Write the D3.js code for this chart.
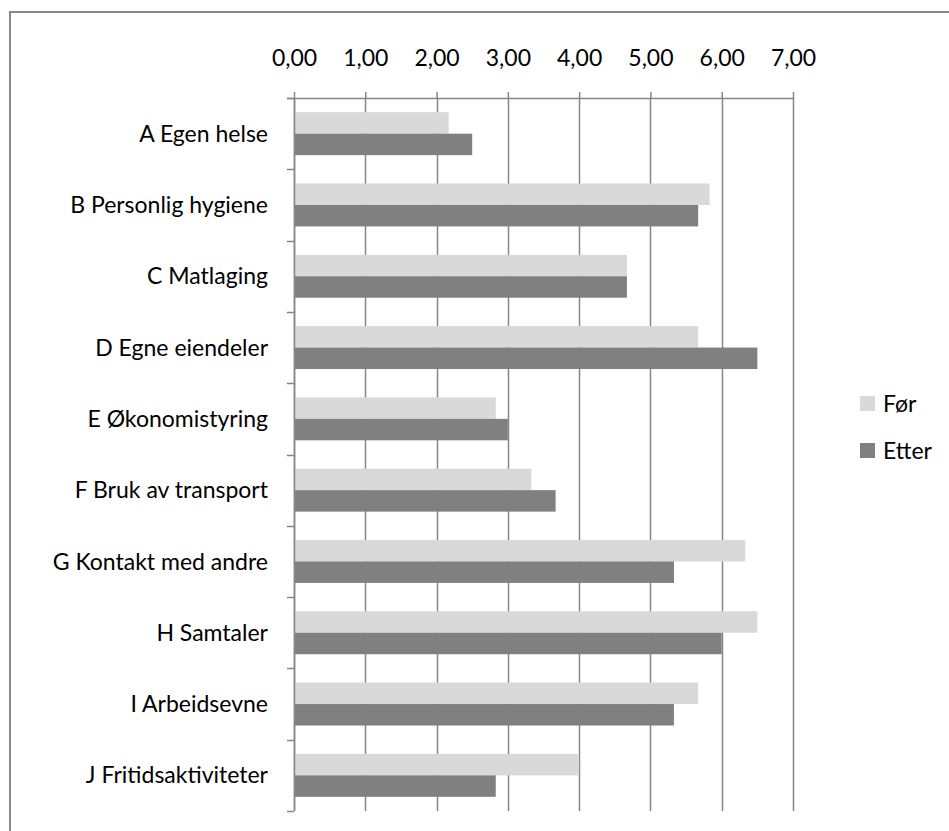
<!DOCTYPE html>
<html>
<head>
<meta charset="utf-8">
<script src="https://cdn.jsdelivr.net/npm/d3@7"></script>
<style>
  html, body { margin: 0; padding: 0; background: #fff; }
  svg { display: block; }
  text { font-family: Lato, "Open Sans", sans-serif; fill: #000; }
</style>
</head>
<body>
<svg id="chart" width="949" height="831"></svg>
<script>
// Activity areas, scored before and after
const categories = [
  "A Egen helse",
  "B Personlig hygiene",
  "C Matlaging",
  "D Egne eiendeler",
  "E Økonomistyring",
  "F Bruk av transport",
  "G Kontakt med andre",
  "H Samtaler",
  "I Arbeidsevne",
  "J Fritidsaktiviteter"
];
const series = ["Før", "Etter"];
const forValues   = [2.17, 5.83, 4.67, 5.67, 2.83, 3.33, 6.33, 6.50, 5.67, 4.00];
const etterValues = [2.50, 5.67, 4.67, 6.50, 3.00, 3.67, 5.33, 6.00, 5.33, 2.83];
const tickValues = [0, 1, 2, 3, 4, 5, 6, 7];
const colors = { "Før": "#d9d9d9", "Etter": "#808080" };

const rows = categories.map((c, i) => ({ cat: c, "Før": forValues[i], "Etter": etterValues[i] }));

const svg = d3.select("#chart");
const axisColor = "#868686";
const fontSize = 23;

// outer frame (runs off the right and bottom edges)
svg.append("rect")
  .attr("x", 10).attr("y", 12)
  .attr("width", 960).attr("height", 840)
  .attr("fill", "none")
  .attr("stroke", axisColor)
  .attr("stroke-width", 2);

const x = d3.scaleLinear().domain([0, 7]).range([294, 793]);
const y = d3.scaleBand().domain(categories).range([98, 811]).paddingInner(0).paddingOuter(0);
const ySub = d3.scaleBand().domain(series).range([0, y.bandwidth()]).paddingInner(0).paddingOuter(0.66);

// vertical gridlines
svg.append("g")
  .selectAll("line")
  .data(tickValues)
  .join("line")
  .attr("x1", d => Math.round(x(d)) + 0.5)
  .attr("x2", d => Math.round(x(d)) + 0.5)
  .attr("y1", 98)
  .attr("y2", 811)
  .attr("stroke", axisColor)
  .attr("stroke-width", 1.5);

// bars
const groups = svg.append("g")
  .selectAll("g")
  .data(rows)
  .join("g")
  .attr("transform", d => `translate(0,${y(d.cat)})`);

groups.selectAll("rect")
  .data(d => series.map(s => ({ key: s, value: d[s] })))
  .join("rect")
  .attr("x", x(0))
  .attr("y", d => ySub(d.key))
  .attr("width", d => x(d.value) - x(0))
  .attr("height", ySub.bandwidth())
  .attr("fill", d => colors[d.key]);

// top value axis
const fmt = d => d3.format(".2f")(d).replace(".", ",");
const xAxis = svg.append("g")
  .attr("transform", "translate(0,98)")
  .call(d3.axisTop(x).tickValues(tickValues).tickFormat(fmt).tickSize(6).tickPadding(26).tickSizeOuter(0));
xAxis.select(".domain").remove();
xAxis.selectAll(".tick line").attr("stroke", axisColor).attr("stroke-width", 1.5);
xAxis.selectAll(".tick text")
  .attr("font-size", fontSize)
  .style("font-family", "Lato, sans-serif")
  .attr("fill", "#000");

// horizontal axis line along the top of the plot
svg.append("line")
  .attr("x1", 287).attr("x2", 793)
  .attr("y1", 98.5).attr("y2", 98.5)
  .attr("stroke", axisColor).attr("stroke-width", 1.5);

// category axis on the left
const yAxisLine = svg.append("g");
yAxisLine.append("line")
  .attr("x1", 294.5).attr("x2", 294.5)
  .attr("y1", 98).attr("y2", 811)
  .attr("stroke", axisColor).attr("stroke-width", 1.5);
const boundaries = categories.map(c => y(c)).concat([y.range()[1]]);
yAxisLine.selectAll(".cat-tick")
  .data(boundaries)
  .join("line")
  .attr("class", "cat-tick")
  .attr("x1", 287).attr("x2", 294)
  .attr("y1", d => Math.round(d) + 0.5)
  .attr("y2", d => Math.round(d) + 0.5)
  .attr("stroke", axisColor).attr("stroke-width", 1.5);

svg.append("g")
  .selectAll("text")
  .data(categories)
  .join("text")
  .attr("x", 268)
  .attr("y", d => y(d) + y.bandwidth() / 2)
  .attr("dy", "0.35em")
  .attr("text-anchor", "end")
  .attr("font-size", fontSize)
  .text(d => d);

// legend
const legend = svg.append("g")
  .selectAll("g")
  .data(series)
  .join("g")
  .attr("transform", (d, i) => `translate(860,${396 + i * 47})`);
legend.append("rect")
  .attr("width", 15).attr("height", 15)
  .attr("fill", d => colors[d]);
legend.append("text")
  .attr("x", 23).attr("y", 7.5)
  .attr("dy", "0.35em")
  .attr("font-size", fontSize)
  .text(d => d);
</script>
</body>
</html>
